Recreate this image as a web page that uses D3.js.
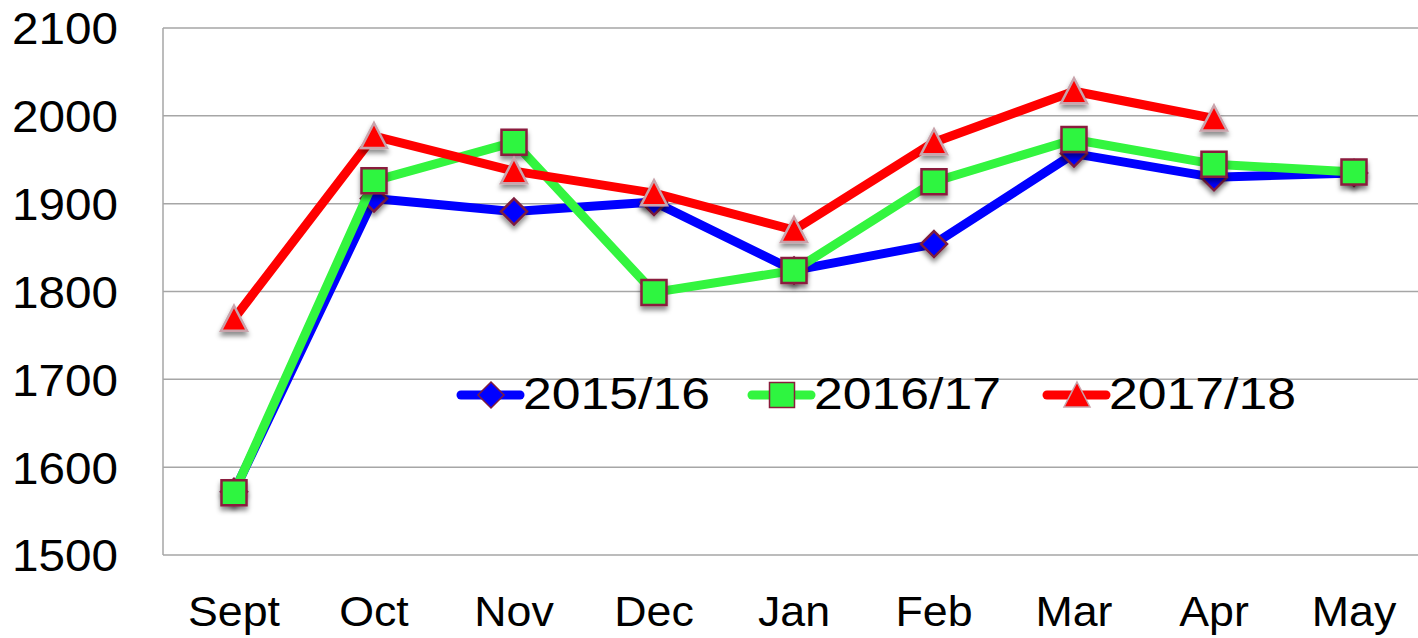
<!DOCTYPE html>
<html>
<head>
<meta charset="utf-8">
<script src="https://cdn.jsdelivr.net/npm/d3@7"></script>
<style>
  body { margin: 0; background: #fff; }
  text { font-family: "Liberation Sans", Arial, sans-serif; fill: #000; }
</style>
</head>
<body>
<script>
        // chart values
        var months = ["Sept", "Oct", "Nov", "Dec", "Jan", "Feb", "Mar", "Apr", "May"];
        var seriesNames = ["2015/16", "2016/17", "2017/18"];
        var values1516 = [1572, 1906, 1891, 1902, 1824, 1854, 1957, 1930, 1935];
        var values1617 = [1571, 1926, 1970, 1799, 1824, 1925, 1973, 1945, 1936];
        var values1718 = [1769, 1977, 1937, 1912, 1870, 1970, 2028, 1997, null];
        var yTicks = [1500, 1600, 1700, 1800, 1900, 2000, 2100];

        width = 1418;
        height = 638;
        margin = ({top: 28, right: -6, bottom: 83, left: 164});

        var series = [
            {name: seriesNames[0], values: values1516, color: "#0000ff", marker: "diamond", fill: "#0000ff", stroke: "#7d1d3f"},
            {name: seriesNames[1], values: values1617, color: "#33f53f", marker: "square", fill: "#2ef540", stroke: "#8a1c3c"},
            {name: seriesNames[2], values: values1718, color: "#ff0000", marker: "triangle", fill: "#ff0000", stroke: "#c9a3ab"}
        ];

        var markerPath = function(type){
            if (type === "diamond") return "M0,-13L13,0L0,13L-13,0Z";
            if (type === "square") return "M-12.5,-12.5H12.5V12.5H-12.5Z";
            return "M0,-13L13,12L-13,12Z";
        }

        var svg = d3.select("body").append("svg")
            .attr("width", width)
            .attr("height", height);

        var defs = svg.append("defs");
        defs.append("filter")
            .attr("id", "shadow")
            .attr("x", "-50%").attr("y", "-50%")
            .attr("width", "200%").attr("height", "200%")
          .append("feDropShadow")
            .attr("dx", 0).attr("dy", 4)
            .attr("stdDeviation", 2.5)
            .attr("flood-color", "#000")
            .attr("flood-opacity", 0.45);

        x = d3.scaleBand()
            .domain(months)
            .range([margin.left, width - margin.right]);
        y = d3.scaleLinear()
            .domain([1500, 2100])
            .range([height - margin.bottom, margin.top]);

        // gridlines
        svg.append("g")
            .selectAll("line")
            .data(yTicks)
            .join("line")
            .attr("x1", margin.left - 1)
            .attr("x2", width)
            .attr("y1", d => y(d))
            .attr("y2", d => y(d))
            .attr("stroke", "#a6a6a6")
            .attr("stroke-width", 1.5);

        svg.append("line")
            .attr("x1", margin.left - 1).attr("x2", margin.left - 1)
            .attr("y1", y(2100)).attr("y2", y(1500))
            .attr("stroke", "#a6a6a6")
            .attr("stroke-width", 1.5);

        var yAxis = g => g
            .attr("transform", `translate(${margin.left},0)`)
            .call(d3.axisLeft(y).tickValues(yTicks).tickSize(0).tickPadding(46).tickFormat(d3.format("d")))
            .call(g => g.select(".domain").remove())
            .call(g => g.selectAll("text")
                .attr("font-size", 44)
                .attr("font-family", "Liberation Sans, Arial, sans-serif")
                .attr("fill", "#000")
                .attr("dy", "0.36em")
                .attr("textLength", 106)
                .attr("lengthAdjust", "spacingAndGlyphs"));

        var xAxis = g => g
            .attr("transform", `translate(0,${height - margin.bottom})`)
            .call(d3.axisBottom(x).tickSize(0).tickPadding(40))
            .call(g => g.select(".domain").remove())
            .call(g => g.selectAll("text")
                .attr("font-size", 43)
                .attr("font-family", "Liberation Sans, Arial, sans-serif")
                .attr("fill", "#000")
                .attr("dy", "0.71em")
                .attr("transform", "scale(1.04,1)"));

        svg.append("g").call(yAxis);
        svg.append("g").call(xAxis);

        var line = d3.line()
            .defined(d => d != null)
            .x((d, i) => x(months[i]) + x.bandwidth() / 2)
            .y(d => y(d));

        series.forEach(function(s){
            var g = svg.append("g");
            g.append("path")
                .datum(s.values)
                .attr("fill", "none")
                .attr("stroke", s.color)
                .attr("stroke-width", 9)
                .attr("stroke-linejoin", "round")
                .attr("d", line);
            g.selectAll("path.marker")
                .data(s.values.map((v, i) => ({v: v, m: months[i]})).filter(d => d.v != null))
                .join("path")
                .attr("class", "marker")
                .attr("transform", d => `translate(${x(d.m) + x.bandwidth() / 2},${y(d.v)})`)
                .attr("d", markerPath(s.marker))
                .attr("fill", s.fill)
                .attr("stroke", s.stroke)
                .attr("stroke-width", 2.5)
                .attr("filter", "url(#shadow)");
        });

        // legend
        var legendX = [461, 752, 1047];
        var legend = svg.append("g").attr("transform", "translate(0,395)");
        series.forEach(function(s, i){
            var lg = legend.append("g").attr("transform", `translate(${legendX[i]},0)`);
            lg.append("line")
                .attr("x1", 0).attr("x2", 59)
                .attr("stroke", s.color)
                .attr("stroke-width", 9)
                .attr("stroke-linecap", "round");
            lg.append("path")
                .attr("transform", "translate(30,0)")
                .attr("d", markerPath(s.marker))
                .attr("fill", s.fill)
                .attr("stroke", s.stroke)
                .attr("stroke-width", 1.5);
            lg.append("text")
                .attr("x", 62)
                .attr("y", 14)
                .attr("font-size", 44)
                .attr("textLength", 187)
                .attr("lengthAdjust", "spacingAndGlyphs")
                .text(s.name);
        });
</script>
</body>
</html>
